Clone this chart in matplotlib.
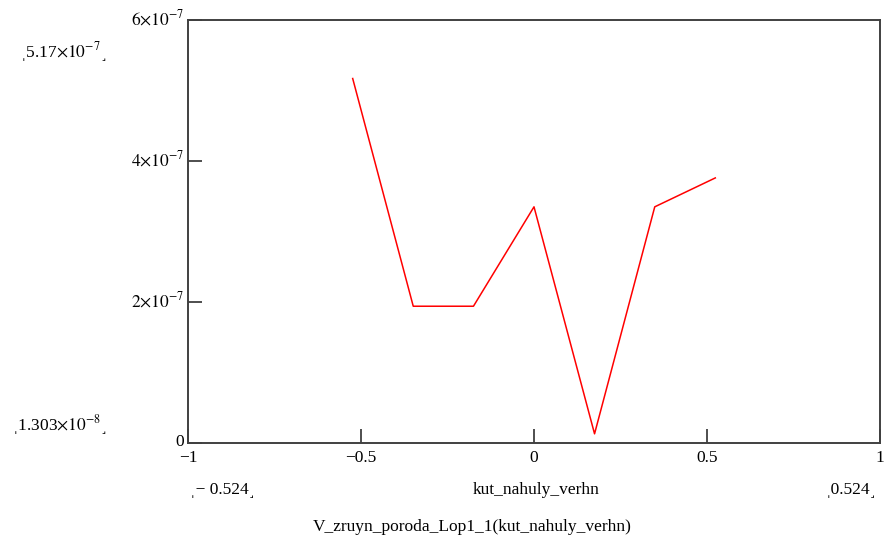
import numpy as np
import matplotlib
matplotlib.use('Agg')
from matplotlib import pyplot as plt
from matplotlib.transforms import ScaledTranslation

# angles (rad) and computed values
kut_nahuly_verhn = [-0.524, -0.349, -0.175, 0.0, 0.175, 0.349, 0.524]
v_zruyn = [5.17e-7, 1.94e-7, 1.94e-7, 3.35e-7, 1.303e-8, 3.35e-7, 3.76e-7]

xticks = [-1, -0.5, 0, 0.5, 1]
xticklabels = ['\u22121', '\u22120.5', '0', '0.5', '1']
yticks = [0, 2e-7, 4e-7, 6e-7]
yticklabels = ['0', r'$2{\times}10^{-7}$', r'$4{\times}10^{-7}$', r'$6{\times}10^{-7}$']

plt.rcParams['font.family'] = ['Liberation Serif', 'DejaVu Serif']
plt.rcParams['mathtext.fontset'] = 'stix'

fs = 12.5
f = plt.figure(figsize=(8.86, 5.48), dpi=100)
ax = f.add_axes([188/886, 105/548, 692/886, 423/548])
ax.plot(kut_nahuly_verhn, v_zruyn, color='red', lw=1.1)

ax.set_xlim(-1, 1)
ax.set_ylim(0, 6e-7)
ax.set_xticks(xticks)
ax.set_xticklabels(xticklabels, fontsize=fs)
ax.set_yticks(yticks)
ax.set_yticklabels(yticklabels, fontsize=fs)
ax.tick_params(direction='in', length=10, width=1.3, color='#404040', pad=3)
ax.tick_params(axis='x', pad=5)
for s in ax.spines.values():
    s.set_color('#404040')
    s.set_linewidth(1.4)

# y labels sit a little above their ticks in the original
up = ScaledTranslation(0, 3/100, f.dpi_scale_trans)
for lab in ax.get_yticklabels():
    lab.set_transform(lab.get_transform() + up)

# Mathcad-style range markers and axis labels
f.text(20/886, 1 - 52/548, '\u02cc' + '5.17' + r'$\times10^{-7}$' + '\u02fc', fontsize=fs,
       va='center', ha='left')
f.text(12/886, 1 - 425/548, '\u02cc' + '1.303' + r'$\times10^{-8}$' + '\u02fc', fontsize=fs,
       va='center', ha='left')
f.text(190/886, 1 - 490/548, '\u02cc\u2212 0.524\u02fc', fontsize=fs, va='center', ha='left')
f.text(536/886, 1 - 490/548, 'kut_nahuly_verhn', fontsize=fs, va='center', ha='center')
f.text(876/886, 1 - 490/548, '\u02cc0.524\u02fc', fontsize=fs, va='center', ha='right')
f.text(472/886, 1 - 527/548, 'V_zruyn_poroda_Lop1_1(kut_nahuly_verhn)', fontsize=fs,
       va='center', ha='center')

plt.savefig('out.png', dpi=100)
